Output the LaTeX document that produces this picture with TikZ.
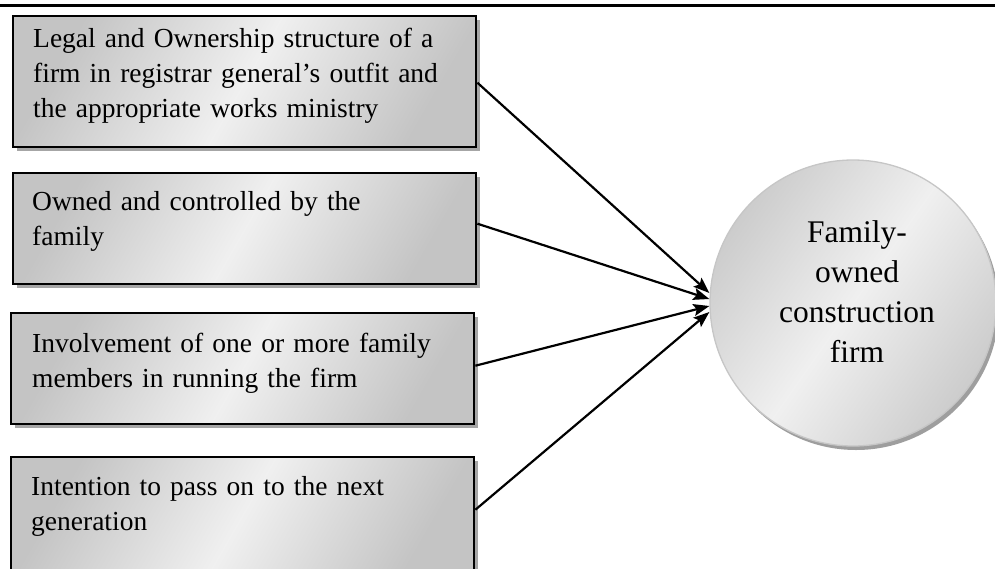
\documentclass[tikz,border=0pt]{standalone}
\usepackage{fontspec}
\setmainfont{Liberation Serif}
\usetikzlibrary{shadows,arrows.meta}
\tikzset{
  boxshape/.style={draw=black, line width=2.4pt, anchor=north west,
    top color=gray!46, bottom color=gray!46, middle color=gray!12, shading angle=60,
    drop shadow={shadow xshift=4pt, shadow yshift=-4pt, fill=black!35, opacity=1},
    inner sep=0pt, minimum width=463pt},
  boxtext/.style={anchor=base west, text width=440pt, align=left, inner sep=0pt,
    font=\fontsize{27.5pt}{35pt}\selectfont},
  circshape/.style={circle, draw=gray!45, line width=1.3pt,
    top color=gray!40, bottom color=gray!40, middle color=gray!12, shading angle=55,
    drop shadow={shadow xshift=3pt, shadow yshift=-4pt, fill=black!38, opacity=1},
    inner sep=0pt, minimum size=286pt},
  circtext/.style={anchor=base, align=center, inner sep=0pt,
    font=\fontsize{31.5pt}{40pt}\selectfont},
  arr/.style={line width=2.2pt, -{Stealth[length=16pt,width=12pt,inset=3pt]}},
  rule/.style={line width=3.4pt}
}
\begin{document}
\begin{tikzpicture}[x=1pt,y=-1pt]
\useasboundingbox (0,0) rectangle (995,568);
\clip (0,0) rectangle (995,568);
\coordinate (ruleL) at (0,5.5);
\coordinate (ruleR) at (995,5.5);
\draw[rule] (ruleL) -- (ruleR);

\node[boxshape, minimum height=131pt] (b1) at (12,15) {};
\node[boxshape, minimum height=111pt] (b2) at (12,172) {};
\node[boxshape, minimum height=111pt] (b3) at (10,312) {};
\node[boxshape, minimum height=115pt] (b4) at (10,456) {};

\node[boxtext] (t1) at (33,47) {Legal and Ownership structure of a\\firm in registrar general’s outfit and\\the appropriate works ministry};
\node[boxtext] (t2) at (32,210) {Owned and controlled by the\\family};
\node[boxtext] (t3) at (32,352) {Involvement of one or more family\\members in running the firm};
\node[boxtext] (t4) at (31,495) {Intention to pass on to the next\\generation};

\node[circshape] (c) at (853,303) {};
\node[circtext] (ct) at (857,362) {Family-\\owned\\construction\\firm};

\draw[arr] ([yshift=-1pt]b1.east) -- ([yshift=10pt]c.west);
\draw[arr] ([yshift=5pt]b2.east) -- ([yshift=4pt]c.west);
\draw[arr] ([yshift=3pt]b3.east) -- ([yshift=-3pt]c.west);
\draw[arr] ([yshift=5pt]b4.east) -- ([yshift=-9pt]c.west);
\end{tikzpicture}
\end{document}
